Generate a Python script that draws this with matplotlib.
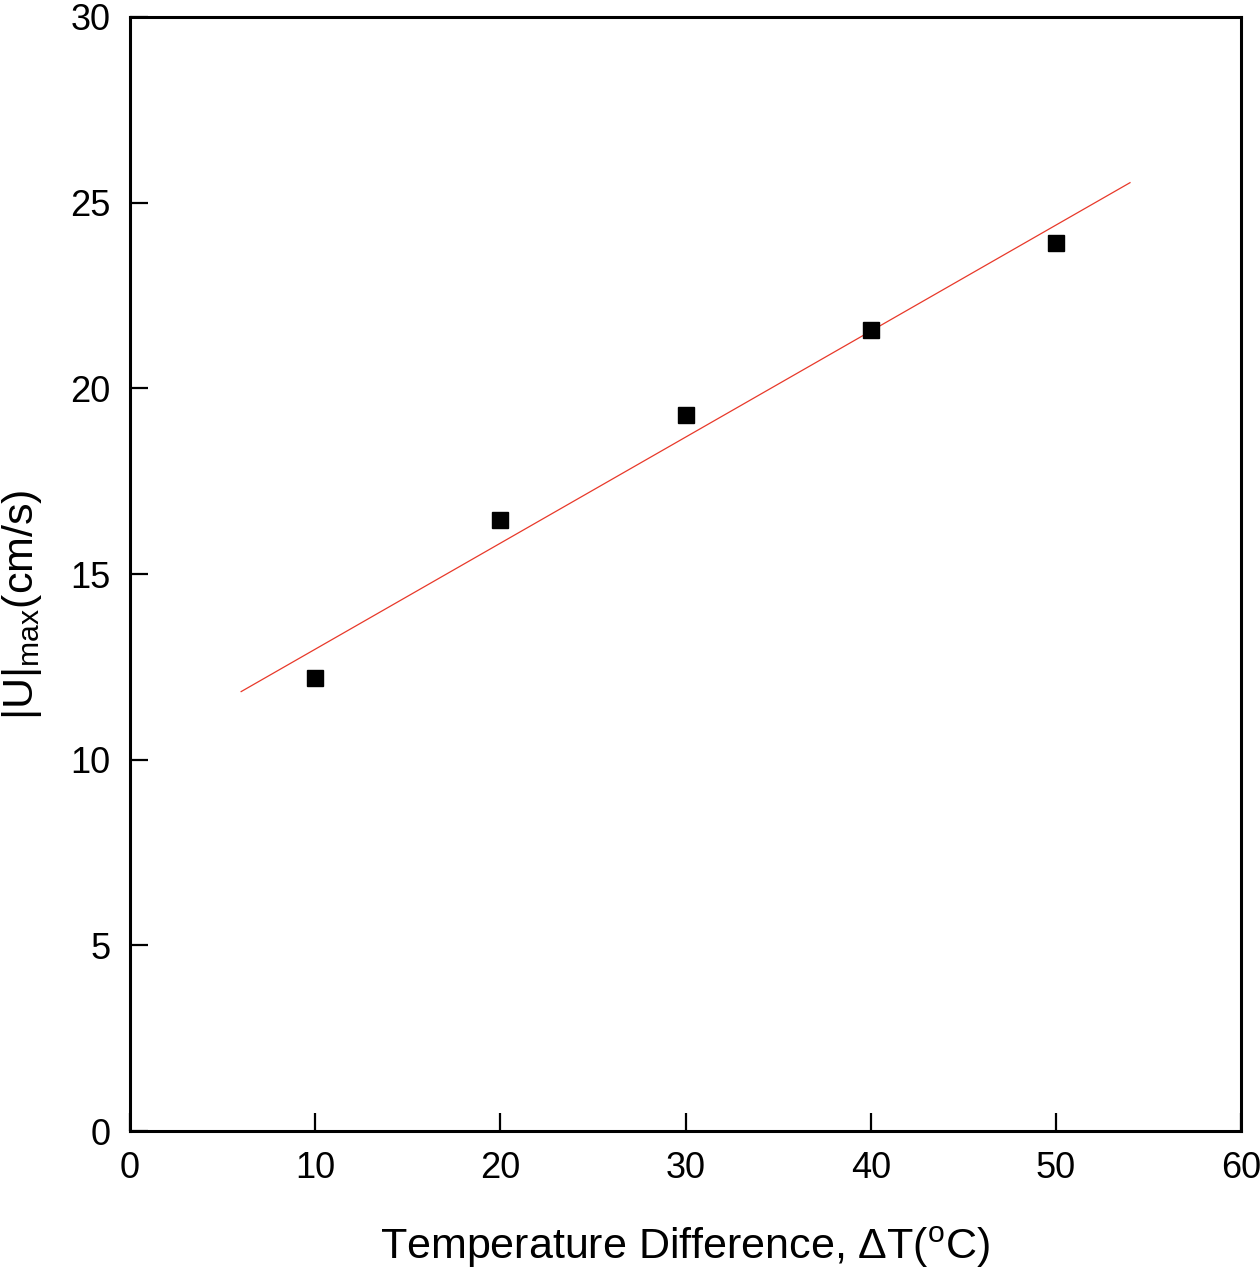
import matplotlib
matplotlib.use("Agg")
import matplotlib.pyplot as plt
import numpy as np

# data
delta_t = np.array([10, 20, 30, 40, 50])
u_max = np.array([12.2, 16.46, 19.28, 21.57, 23.92])
fit_range = [6, 54]

plt.rcParams['font.family'] = ['Liberation Sans', 'DejaVu Sans']
plt.rcParams['mathtext.fontset'] = 'custom'
plt.rcParams['mathtext.rm'] = 'Liberation Sans'
plt.rcParams['mathtext.it'] = 'Liberation Sans'

fig = plt.figure(figsize=(12.6, 12.68), dpi=100)
ax = fig.add_axes([0.1032, 0.108, 0.8818, 0.8786])

# linear fit
k, b = np.polyfit(delta_t, u_max, 1)
xf = np.array(fit_range)
ax.plot(xf, k * xf + b, color='#e8392a', lw=0.9)

ax.plot(delta_t, u_max, 's', color='black', markersize=12, zorder=3)

ax.set_xlim(0, 60)
ax.set_ylim(0, 30)
ax.set_xticks(np.arange(0, 61, 10))
ax.set_yticks(np.arange(0, 31, 5))

ax.tick_params(direction='in', length=13, width=1.6, labelsize=26, pad=14)
for s in ax.spines.values():
    s.set_linewidth(2.2)

ax.set_xlabel(r'Temperature Difference, $\Delta$T($^{\mathrm{o}}$C)', fontsize=31, labelpad=28)
ax.set_ylabel(r'$|\mathrm{U}|_{\mathrm{max}}$(cm/s)', fontsize=31)
ax.yaxis.set_label_coords(-0.077, 0.472)

plt.savefig('out.png', dpi=100)
